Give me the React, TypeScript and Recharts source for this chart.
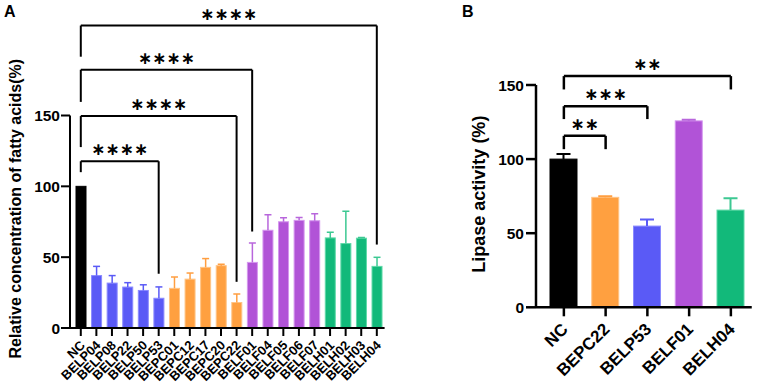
import React from 'react';
import { BarChart, Bar, XAxis, YAxis, ReferenceLine } from 'recharts';

// Panel A: relative concentration of fatty acids (%)
const namesA = [
  'NC', 'BELP04', 'BELP08', 'BELP22', 'BELP50', 'BELP53',
  'BEPC01', 'BEPC12', 'BEPC17', 'BEPC20', 'BEPC22',
  'BELF01', 'BELF04', 'BELF05', 'BELF06', 'BELF07',
  'BELH01', 'BELH02', 'BELH03', 'BELH04',
];
const groupsA = [
  'NC', 'P', 'P', 'P', 'P', 'P',
  'C', 'C', 'C', 'C', 'C',
  'F', 'F', 'F', 'F', 'F',
  'H', 'H', 'H', 'H',
];
const valuesA = [100, 37, 31.7, 28.9, 26.5, 21, 28, 34.5, 42.8, 44, 18, 46.3, 69, 75, 76, 75.7, 63.6, 59.6, 63.4, 43.5];
const errorsA = [0, 6.5, 5.3, 3.1, 4, 8, 8, 4.3, 6.2, 1, 6, 13.7, 11, 2.8, 2, 4.9, 4, 22.9, 0.4, 6.4];
const ticksA = [0, 50, 100, 150];
// significance brackets: from, to, height, left drop, right drop, stars
const bracketsA = [
  { from: 'NC', to: 'BELP53', y: 117.7, left: 110, right: 38.3, stars: '∗∗∗∗' },
  { from: 'NC', to: 'BEPC22', y: 149.6, left: 127.7, right: 32.6, stars: '∗∗∗∗' },
  { from: 'NC', to: 'BELF01', y: 182.3, left: 159.6, right: 68.1, stars: '∗∗∗∗' },
  { from: 'NC', to: 'BELH04', y: 213.5, left: 191.5, right: 58.9, stars: '∗∗∗∗' },
];

// Panel B: lipase activity (%)
const namesB = ['NC', 'BEPC22', 'BELP53', 'BELF01', 'BELH04'];
const groupsB = ['NC', 'C', 'P', 'F', 'H'];
const valuesB = [100, 74.2, 54.8, 125.8, 65.6];
const errorsB = [3.4, 0.8, 4.5, 0.7, 7.9];
const ticksB = [0, 50, 100, 150];
const bracketsB = [
  { from: 'NC', to: 'BEPC22', y: 115.7, left: 106.7, right: 106.7, stars: '∗∗' },
  { from: 'NC', to: 'BELP53', y: 135.7, left: 127, right: 127, stars: '∗∗∗' },
  { from: 'NC', to: 'BELH04', y: 156, left: 147, right: 147, stars: '∗∗' },
];

const palette: Record<string, { fill: string; edge: string; whisk: string }> = {
  NC: { fill: '#000000', edge: '#000000', whisk: '#000000' },
  P: { fill: '#5a5af6', edge: '#8a8aff', whisk: '#5a5af6' },
  C: { fill: '#ffa040', edge: '#ffc486', whisk: '#ff9e40' },
  F: { fill: '#b153d7', edge: '#d597ef', whisk: '#b866dc' },
  H: { fill: '#12b97a', edge: '#5fd9a8', whisk: '#3cc892' },
};

const dataA = namesA.map((name, i) => ({ name, value: valuesA[i], err: errorsA[i], ...palette[groupsA[i]] }));
const dataB = namesB.map((name, i) => ({ name, value: valuesB[i], err: errorsB[i], ...palette[groupsB[i]] }));

const FONT = '"Liberation Sans", Arial, sans-serif';

const BarWithError = (props: any) => {
  const { x, y, width, height, payload, capW, sw } = props;
  if (height == null || !payload) return null;
  const ppu = payload.value ? height / payload.value : 0;
  const top = y - payload.err * ppu;
  const cx = x + width / 2;
  return (
    <g>
      <rect x={x} y={y} width={width} height={height} fill={payload.fill} stroke={payload.edge} strokeWidth={1} />
      {payload.err > 0 && (
        <g stroke={payload.whisk} strokeWidth={sw}>
          <line x1={cx} x2={cx} y1={y} y2={top} />
          <line x1={cx - capW / 2} x2={cx + capW / 2} y1={top} y2={top} />
        </g>
      )}
    </g>
  );
};

const RotatedTick = (props: any) => {
  const { x, y, payload, fontSize, dx, dy } = props;
  return (
    <text
      x={x + dx}
      y={y + dy}
      transform={`rotate(-45 ${x + dx} ${y + dy})`}
      textAnchor="end"
      fontFamily={FONT}
      fontWeight="bold"
      fontSize={fontSize}
      fill="#000"
    >
      {payload.value}
    </text>
  );
};

const renderBrackets = (list: typeof bracketsA, sw: number, starSize: number, starOffset: number) =>
  list.flatMap((b, i) => [
    <ReferenceLine
      key={`h${i}`}
      segment={[{ x: b.from, y: b.y }, { x: b.to, y: b.y }]}
      stroke="#000"
      strokeWidth={sw}
      ifOverflow="visible"
      label={{
        value: b.stars,
        position: 'top',
        offset: starOffset,
        fill: '#000',
        fontSize: starSize,
        fontWeight: 'bold',
        fontFamily: '"DejaVu Sans", sans-serif',
      }}
    />,
    <ReferenceLine
      key={`l${i}`}
      segment={[{ x: b.from, y: b.y }, { x: b.from, y: b.left }]}
      stroke="#000"
      strokeWidth={sw}
      ifOverflow="visible"
    />,
    <ReferenceLine
      key={`r${i}`}
      segment={[{ x: b.to, y: b.y }, { x: b.to, y: b.right }]}
      stroke="#000"
      strokeWidth={sw}
      ifOverflow="visible"
    />,
  ]);

const yLabel = (text: string, cx: number, shift: number, size: number) => (p: any) => {
  const vb = p.viewBox;
  const cy = vb.y + vb.height / 2 + shift;
  return (
    <text
      x={cx}
      y={cy}
      transform={`rotate(-90 ${cx} ${cy})`}
      textAnchor="middle"
      dominantBaseline="central"
      fontFamily={FONT}
      fontWeight="bold"
      fontSize={size}
      fill="#000"
    >
      {text}
    </text>
  );
};

const panelLetter: React.CSSProperties = {
  position: 'absolute',
  top: 4,
  fontFamily: FONT,
  fontWeight: 'bold',
  fontSize: 16,
  lineHeight: '16px',
  color: '#000',
};

export default function App() {
  return (
    <div style={{ position: 'absolute', left: 0, top: 0, width: 765, height: 385, background: '#fff', overflow: 'hidden' }}>
      <div style={{ ...panelLetter, left: 4 }}>A</div>
      <div style={{ ...panelLetter, left: 462 }}>B</div>

      <div style={{ position: 'absolute', left: 0, top: 0 }}>
        <BarChart width={400} height={385} data={dataA} margin={{ top: 115.5, right: 15.4, bottom: 0, left: 0 }} barSize={10}>
          <XAxis
            dataKey="name"
            type="category"
            interval={0}
            height={57}
            padding={{ left: 3, right: 0 }}
            axisLine={{ stroke: '#000', strokeWidth: 2 }}
            tickLine={{ stroke: '#000', strokeWidth: 2 }}
            tickSize={8}
            tickMargin={0}
            tick={<RotatedTick fontSize={13} dx={5} dy={10} />}
          />
          <YAxis
            type="number"
            domain={[0, 150]}
            ticks={ticksA}
            width={70}
            allowDataOverflow
            axisLine={{ stroke: '#000', strokeWidth: 2 }}
            tickLine={{ stroke: '#000', strokeWidth: 2 }}
            tickSize={9}
            tickMargin={1}
            tick={{ fill: '#000', fontSize: 15.5, fontWeight: 'bold', fontFamily: FONT }}
            label={{ content: yLabel('Relative concentration of fatty acids(%)', 15, -13, 16) }}
          />
          <Bar dataKey="value" isAnimationActive={false} shape={(p: any) => <BarWithError {...p} capW={7} sw={1.5} />} />
          {renderBrackets(bracketsA, 2, 17, 6)}
        </BarChart>
      </div>

      <div style={{ position: 'absolute', left: 440, top: 0 }}>
        <BarChart width={325} height={385} data={dataB} margin={{ top: 85, right: 13.25, bottom: 0, left: 0 }} barSize={27}>
          <XAxis
            dataKey="name"
            type="category"
            interval={0}
            height={77.7}
            padding={{ left: 7, right: 0 }}
            axisLine={{ stroke: '#000', strokeWidth: 2.5 }}
            tickLine={{ stroke: '#000', strokeWidth: 2.5 }}
            tickSize={9}
            tickMargin={0}
            tick={<RotatedTick fontSize={17} dx={5} dy={14} />}
          />
          <YAxis
            type="number"
            domain={[0, 150]}
            ticks={ticksB}
            width={96}
            allowDataOverflow
            axisLine={{ stroke: '#000', strokeWidth: 2.5 }}
            tickLine={{ stroke: '#000', strokeWidth: 2.5 }}
            tickSize={10}
            tickMargin={2}
            tick={{ fill: '#000', fontSize: 15.5, fontWeight: 'bold', fontFamily: FONT }}
            label={{ content: yLabel('Lipase activity (%)', 39, -2, 18) }}
          />
          <Bar dataKey="value" isAnimationActive={false} shape={(p: any) => <BarWithError {...p} capW={14} sw={2} />} />
          {renderBrackets(bracketsB, 2.5, 17, 6)}
        </BarChart>
      </div>
    </div>
  );
}
